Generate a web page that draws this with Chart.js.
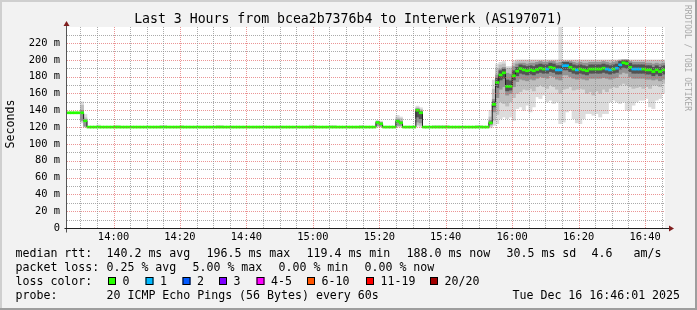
<!DOCTYPE html>
<html>
<head>
<meta charset="utf-8">
<title>Last 3 Hours from bcea2b7376b4 to Interwerk (AS197071)</title>
<script src="https://cdn.jsdelivr.net/npm/chart.js@4.4.1/dist/chart.umd.min.js"></script>
<style>
  html, body { margin: 0; padding: 0; background: #f2f2f2; }
  #wrap { width: 697px; height: 310px; }
</style>
</head>
<body>
<div id="wrap"><canvas id="smokeChart" width="697" height="310"></canvas></div>
<script>
// 1 sample per minute, minute 0 = 13:46, minute 179 = 16:45
const timeLabels = ['14:00', '14:20', '14:40', '15:00', '15:20', '15:40', '16:00', '16:20', '16:40'];
const labelMinutes = [14, 34, 54, 74, 94, 114, 134, 154, 174];
const gridMinutes = [4, 9, 14, 19, 24, 29, 34, 39, 44, 49, 54, 59, 64, 69, 74, 79, 84, 89,
    94, 99, 104, 109, 114, 119, 124, 129, 134, 139, 144, 149, 154, 159, 164, 169, 174, 179];
const yTicks = [0, 10, 20, 30, 40, 50, 60, 70, 80, 90, 100, 110, 120, 130, 140, 150, 160, 170,
    180, 190, 200, 210, 220, 230];

// median rtt (ms) per minute
const medianRtt = [
    137, 137, 137, 137, 137, 127.5, 120, 120, 120, 120, 120, 120, 120, 120, 120, 120, 120, 120, 120, 120,
    120, 120, 120, 120, 120, 120, 120, 120, 120, 120, 120, 120, 120, 120, 120, 120, 120, 120, 120, 120,
    120, 120, 120, 120, 120, 120, 120, 120, 120, 120, 120, 120, 120, 120, 120, 120, 120, 120, 120, 120,
    120, 120, 120, 120, 120, 120, 120, 120, 120, 120, 120, 120, 120, 120, 120, 120, 120, 120, 120, 120,
    120, 120, 120, 120, 120, 120, 120, 120, 120, 120, 120, 120, 120, 125.5, 124, 120, 120, 120, 120, 127,
    125, 120, 120, 120, 120, 140, 137, 120, 120, 120, 120, 120, 120, 120, 120, 120, 120, 120, 120, 120,
    120, 120, 120, 120, 120, 120, 120, 125, 147, 173, 182, 184.5, 168.5, 168.5, 181, 186.5, 189.5, 188, 187, 188,
    187, 188.5, 190, 189, 189, 191, 190, 188, 188, 193, 193, 191, 189, 188, 189, 188, 187, 189, 189, 189,
    189, 190, 189, 188, 189, 190, 194, 196.5, 195.5, 191, 189, 189, 189, 189, 188, 188, 186, 188, 186, 188
];

// minutes with 1 of 20 pings lost (all others 0)
const lossMinutes = [144, 147, 148, 149, 150, 153, 162, 163, 165, 166, 170, 171, 172];
const lossLabels = ['0', '1', '2', '3', '4-5', '6-10', '11-19', '20/20'];
const lossColors = ['#26ff00', '#00b8ff', '#0059ff', '#7e00ff', '#ff00ff', '#ff5500', '#ff0000', '#a10000'];

// smoke: [minute, low ms, high ms], outer band lightest
const smokeOuter = [
    [4, 125, 150], [5, 120, 135], [9, 120, 122.5], [14, 120, 122], [15, 120, 122], [28, 120, 122], [29, 120, 122],
    [34, 120, 122], [45, 120, 122], [46, 120, 122], [73, 120, 122.5], [74, 120, 122], [79, 120, 122], [80, 120, 122],
    [88, 120, 122], [93, 120, 128], [94, 120, 127], [99, 120, 134], [100, 120, 132], [105, 121, 145], [106, 120, 143],
    [110, 120, 122], [111, 120, 122], [112, 120, 122], [113, 120, 122], [114, 120, 122], [123, 120, 122], [124, 120, 122],
    [127, 119, 140], [128, 122, 176], [129, 124, 195], [130, 130, 197], [131, 132, 198], [132, 130, 192], [133, 132, 192],
    [134, 128, 199], [135, 142, 200], [136, 144, 200], [137, 140, 200], [138, 146, 200], [139, 138, 200], [140, 144, 200],
    [141, 156, 200], [142, 154, 200], [143, 158, 200], [144, 150, 200], [145, 152, 200], [146, 148, 200], [147, 150, 200],
    [148, 124, 239], [149, 126, 200], [150, 138, 200], [151, 140, 200], [152, 130, 200], [153, 125, 200], [154, 124, 200],
    [155, 130, 200], [156, 136, 200], [157, 136, 200], [158, 134, 200], [159, 136, 200], [160, 132, 200], [161, 136, 200],
    [162, 136, 200], [163, 150, 200], [164, 152, 200], [165, 150, 200], [166, 148, 200], [167, 150, 200], [168, 140, 200],
    [169, 140, 200], [170, 146, 200], [171, 150, 200], [172, 152, 200], [173, 152, 200], [174, 154, 200], [175, 144, 200],
    [176, 142, 200], [177, 152, 200], [178, 154, 200], [179, 160, 200]
];
const smokeMid = [
    [4, 127, 146], [5, 121, 131], [93, 121, 127], [94, 121, 126], [99, 121, 131], [100, 121, 130], [105, 123, 143], [106, 122, 141],
    [127, 121, 132], [128, 128, 165], [129, 135, 190], [130, 150, 194], [131, 148, 195], [132, 145, 190], [133, 150, 190],
    [134, 155, 196], [135, 160, 198], [136, 162, 199], [137, 165, 199], [138, 164, 199], [139, 166, 199], [140, 163, 199],
    [141, 168, 199], [142, 170, 199], [143, 168, 199], [144, 166, 199], [145, 170, 199], [146, 168, 199], [147, 165, 199],
    [148, 160, 200], [149, 165, 199], [150, 166, 199], [151, 168, 199], [152, 164, 199], [153, 165, 199], [154, 166, 199],
    [155, 165, 199], [156, 160, 199], [157, 162, 199], [158, 158, 199], [159, 163, 199], [160, 160, 199], [161, 165, 199],
    [162, 162, 199], [163, 166, 199], [164, 168, 199], [165, 167, 199], [166, 170, 200], [167, 172, 200], [168, 170, 200],
    [169, 168, 199], [170, 166, 199], [171, 167, 199], [172, 168, 199], [173, 166, 199], [174, 168, 199], [175, 166, 199],
    [176, 170, 199], [177, 170, 199], [178, 168, 199], [179, 172, 199]
];
const smokeInner = [
    [4, 128, 140], [5, 121, 128], [93, 122, 126], [94, 121, 125], [99, 122, 129], [100, 122, 127], [105, 126, 142], [106, 125, 139],
    [127, 123, 128], [128, 138, 153], [129, 155, 182], [130, 165, 189], [131, 168, 191], [132, 158, 184], [133, 160, 183],
    [134, 168, 192], [135, 174, 195], [136, 177, 196], [137, 176, 196], [138, 175, 195], [139, 177, 196], [140, 176, 196],
    [141, 178, 197], [142, 180, 198], [143, 179, 197], [144, 178, 197], [145, 181, 198], [146, 180, 198], [147, 177, 196],
    [148, 176, 197], [149, 182, 198], [150, 182, 198], [151, 180, 198], [152, 178, 197], [153, 177, 196], [154, 178, 197],
    [155, 177, 196], [156, 176, 196], [157, 178, 197], [158, 178, 197], [159, 178, 197], [160, 178, 197], [161, 179, 198],
    [162, 178, 197], [163, 177, 196], [164, 178, 197], [165, 179, 198], [166, 183, 199], [167, 185, 200], [168, 184, 200],
    [169, 180, 198], [170, 178, 197], [171, 178, 197], [172, 178, 197], [173, 178, 197], [174, 177, 196], [175, 177, 196],
    [176, 176, 195], [177, 177, 196], [178, 175, 195], [179, 177, 196]
];
const smokeCore = [
    [105, 132, 141], [106, 130, 138],
    [127, 124, 126], [128, 144, 150], [129, 167, 178], [130, 176, 187], [131, 178, 189], [132, 163, 176], [133, 164, 175],
    [134, 176, 187], [135, 181, 191], [136, 184, 194], [137, 183, 193], [138, 182, 192], [139, 183, 193], [140, 182, 192],
    [141, 184, 194], [142, 185, 195], [143, 184, 194], [144, 184, 194], [145, 186, 196], [146, 185, 195], [147, 183, 193],
    [148, 183, 193], [149, 188, 197], [150, 188, 197], [151, 186, 196], [152, 184, 194], [153, 183, 193], [154, 184, 194],
    [155, 183, 193], [156, 182, 192], [157, 184, 194], [158, 184, 194], [159, 184, 194], [160, 184, 194], [161, 185, 195],
    [162, 184, 194], [163, 183, 193], [164, 184, 194], [165, 185, 195], [166, 189, 198], [167, 191, 199], [168, 190, 199],
    [169, 186, 196], [170, 184, 194], [171, 184, 194], [172, 184, 194], [173, 184, 194], [174, 183, 193], [175, 183, 193],
    [176, 181, 191], [177, 183, 193], [178, 181, 191], [179, 183, 193]
];

const MONO = "'DejaVu Sans Mono', monospace";
const gridColor = 'rgba(143, 143, 143, 0.75)';
const mgridColor = 'rgba(222, 79, 79, 0.6)';

function smokeDataset(band, color, order) {
    return {
        type: 'bar',
        data: band.map(([m, lo, hi]) => ({ x: m + 0.5, y: [lo, hi] })),
        backgroundColor: color,
        borderWidth: 0,
        barPercentage: 1,
        categoryPercentage: 1,
        grouped: false,
        order: order
    };
}

// bottom legend, rrdtool style
const legendLines = [
    [['median rtt:', 16], ['140.2 ms avg', 107], ['196.5 ms max', 207], ['119.4 ms min', 307],
     ['188.0 ms now', 407], ['30.5 ms sd', 507], ['4.6', 592], ['am/s', 634]],
    [['packet loss:', 16], ['0.25 % avg', 107], ['5.00 % max', 193], ['0.00 % min', 279], ['0.00 % now', 365]],
    [['loss color:', 16]],
    [['probe:', 16], ['20 ICMP Echo Pings (56 Bytes) every 60s', 107], ['Tue Dec 16 16:46:01 2025', 513]]
];
const legendY = [254, 268, 281.5, 295.5];
const lossBoxX = [108, 145.5, 182.5, 219, 256.5, 307, 366, 430];

const rrdFrame = {
    id: 'rrdFrame',
    beforeDraw(chart) {
        const { ctx, chartArea: a, width, height } = chart;
        ctx.save();
        ctx.fillStyle = '#f2f2f2';
        ctx.fillRect(0, 0, width, height);
        ctx.fillStyle = '#cfcfcf';
        ctx.fillRect(0, 0, width, 2);
        ctx.fillRect(0, 0, 2, height);
        ctx.fillStyle = '#9e9e9e';
        ctx.fillRect(0, height - 2, width, 2);
        ctx.fillRect(width - 2, 0, 2, height);
        ctx.fillStyle = '#ffffff';
        ctx.fillRect(a.left, a.top, a.right - a.left, a.bottom - a.top);
        ctx.restore();
    },
    // grid over the graph, like rrdtool
    afterDatasetsDraw(chart) {
        const { ctx, chartArea: a, scales: { x, y } } = chart;
        ctx.save();
        ctx.lineWidth = 1;
        ctx.setLineDash([1, 1]);
        yTicks.forEach(v => {
            if (v === 0) return;
            const py = Math.round(y.getPixelForValue(v)) + 0.5;
            ctx.strokeStyle = v % 20 === 0 ? mgridColor : gridColor;
            ctx.beginPath();
            ctx.moveTo(a.left, py);
            ctx.lineTo(a.right, py);
            ctx.stroke();
        });
        gridMinutes.forEach(m => {
            const px = Math.round(x.getPixelForValue(m)) + 0.5;
            ctx.strokeStyle = labelMinutes.includes(m) ? mgridColor : gridColor;
            ctx.beginPath();
            ctx.moveTo(px, a.top);
            ctx.lineTo(px, a.bottom);
            ctx.stroke();
        });
        ctx.restore();
    },
    afterDraw(chart) {
        const { ctx, chartArea: a } = chart;
        ctx.save();
        // axes + arrows
        const ax = a.left - 0.5, ay = a.bottom + 0.5;
        ctx.lineWidth = 1;
        ctx.strokeStyle = '#555555';
        ctx.beginPath();
        ctx.moveTo(ax, ay + 4);
        ctx.lineTo(ax, a.top - 1);
        ctx.stroke();
        ctx.strokeStyle = '#1f1f1f';
        ctx.beginPath();
        ctx.moveTo(ax - 2, ay);
        ctx.lineTo(a.right + 4, ay);
        ctx.stroke();
        ctx.fillStyle = '#801f1f';
        ctx.beginPath();
        ctx.moveTo(ax, a.top - 6);
        ctx.lineTo(ax - 3, a.top - 1);
        ctx.lineTo(ax + 3, a.top - 1);
        ctx.closePath();
        ctx.fill();
        ctx.beginPath();
        ctx.moveTo(a.right + 9, ay);
        ctx.lineTo(a.right + 4, ay - 3);
        ctx.lineTo(a.right + 4, ay + 3);
        ctx.closePath();
        ctx.fill();

        // y axis title
        ctx.fillStyle = '#000';
        ctx.font = '11.6px ' + MONO;
        ctx.textAlign = 'center';
        ctx.textBaseline = 'middle';
        ctx.save();
        ctx.translate(10.5, 124);
        ctx.rotate(-Math.PI / 2);
        ctx.fillText('Seconds', 0, 0);
        ctx.restore();

        // watermark
        ctx.save();
        ctx.fillStyle = '#a8a8a8';
        ctx.font = '8px ' + MONO;
        ctx.textAlign = 'left';
        ctx.translate(687.5, 5);
        ctx.rotate(Math.PI / 2);
        ctx.fillText('RRDTOOL / TOBI OETIKER', 0, 0);
        ctx.restore();

        // legend
        ctx.textAlign = 'left';
        ctx.font = '11.6px ' + MONO;
        legendLines.forEach((line, i) => {
            line.forEach(([txt, lx]) => ctx.fillText(txt, lx - 0.5, legendY[i]));
        });
        lossColors.forEach((c, i) => {
            const bx = lossBoxX[i], by = 277;
            ctx.fillStyle = c;
            ctx.fillRect(bx, by, 8, 8);
            ctx.strokeStyle = '#000';
            ctx.strokeRect(bx + 0.5, by + 0.5, 7, 7);
            ctx.fillStyle = '#000';
            ctx.fillText(lossLabels[i], bx + 14.5, legendY[2]);
        });
        ctx.restore();
    }
};

const medianLine = medianRtt.map((v, i) => ({ x: i, y: v }));
medianLine.push({ x: medianRtt.length, y: medianRtt[medianRtt.length - 1] });

const ctx = document.getElementById('smokeChart').getContext('2d');
const smokeChart = new Chart(ctx, {
    type: 'bar',
    data: {
        datasets: [
            smokeDataset(smokeOuter, '#dcdcdc', 10),
            smokeDataset(smokeMid, '#bebebe', 9),
            smokeDataset(smokeInner, '#939393', 8),
            smokeDataset(smokeCore, '#535353', 7),
            {
                type: 'line',
                data: medianLine,
                borderColor: '#202020',
                borderWidth: 1,
                pointRadius: 0,
                stepped: true,
                fill: false,
                order: 2
            },
            {
                type: 'bar',
                data: medianRtt.map((v, i) => ({ x: i + 0.5, y: [v - 1.2, v + 1.2] })),
                backgroundColor: medianRtt.map((v, i) => lossColors[lossMinutes.includes(i) ? 1 : 0]),
                borderWidth: 0,
                barPercentage: 1,
                categoryPercentage: 1,
                grouped: false,
                order: 1
            }
        ]
    },
    options: {
        responsive: false,
        animation: false,
        devicePixelRatio: 1,
        layout: { padding: { left: 0, right: 0, top: 0, bottom: 60 } },
        plugins: {
            legend: { display: false },
            tooltip: { enabled: false },
            title: {
                display: true,
                text: 'Last 3 Hours from bcea2b7376b4 to Interwerk (AS197071)',
                color: '#000',
                font: { family: MONO, size: 13.2, weight: 'normal', lineHeight: 1 },
                padding: { top: 12.9, bottom: 0.9 }
            }
        },
        scales: {
            x: {
                type: 'linear',
                min: 0,
                max: 180,
                offset: false,
                afterFit: s => { s.height = 22; },
                afterBuildTicks: s => { s.ticks = labelMinutes.map(v => ({ value: v })); },
                ticks: {
                    autoSkip: false,
                    maxRotation: 0,
                    padding: 4,
                    color: '#000',
                    font: { family: MONO, size: 10.4, lineHeight: 1 },
                    callback: v => timeLabels[labelMinutes.indexOf(v)]
                },
                grid: { display: false, drawTicks: false },
                border: { display: false }
            },
            y: {
                type: 'linear',
                min: 0,
                max: 239,
                afterFit: s => { s.width = 67; },
                afterBuildTicks: s => { s.ticks = yTicks.filter(v => v % 20 === 0).map(v => ({ value: v })); },
                ticks: {
                    autoSkip: false,
                    padding: 7,
                    color: '#000',
                    font: { family: MONO, size: 10.4 },
                    callback: v => v === 0 ? '0' : v + ' m'
                },
                grid: { display: false, drawTicks: false },
                border: { display: false }
            },
            // empty right column (watermark space) so the title centres on the full width
            yRight: {
                type: 'linear',
                position: 'right',
                min: 0,
                max: 1,
                afterFit: s => { s.width = 32; },
                ticks: { display: false },
                grid: { display: false, drawTicks: false },
                border: { display: false }
            }
        }
    },
    plugins: [rrdFrame]
});
</script>
</body>
</html>
